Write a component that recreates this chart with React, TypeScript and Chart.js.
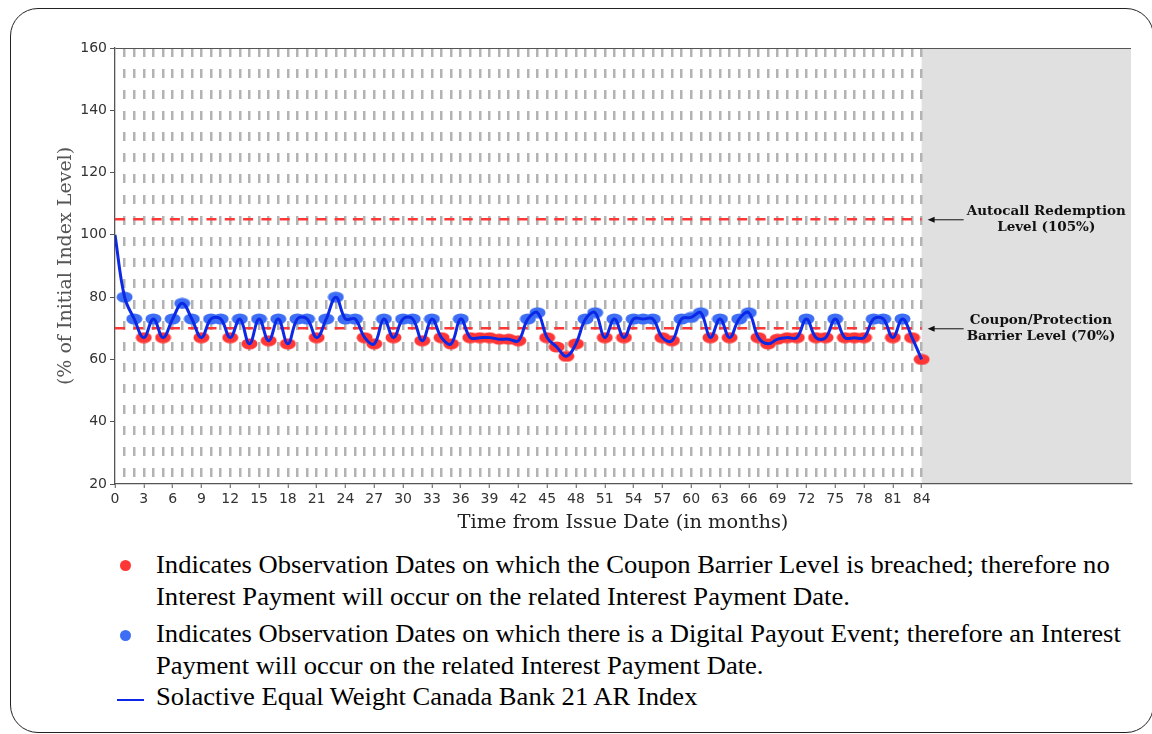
import React, { useEffect, useRef } from "react";
import { Chart, registerables } from "chart.js";

Chart.register(...registerables);

// ---- data ----
const indexValues = [
  100, 80, 73, 67, 73, 67, 73, 78, 73, 67, 73, 73, 67, 73, 65, 73, 66, 73, 65, 73,
  73, 67, 73, 80, 73, 73, 67, 65, 73, 67, 73, 73, 66, 73, 67, 65, 73, 67, 67, 67,
  66.5, 66.5, 66, 73, 75, 67, 64, 61, 65, 73, 75, 67, 73, 67, 73, 73, 73, 67, 66, 73,
  73.5, 75, 67, 73, 67, 73, 75, 67, 65, 66.5, 67, 67, 73, 67, 67, 73, 67, 67, 67, 73,
  73, 67, 73, 67, 60,
];
const months = indexValues.map((_, i) => i);
const autocallLevel = 105;
const couponLevel = 70;
const lastObservation = 84;
const xAxisMax = 105.8;
const xTickStep = 3;
const yTicks = [20, 40, 60, 80, 100, 120, 140, 160];
const xTitle = "Time from Issue Date (in months)";
const yTitle = "(% of Initial Index Level)";
const autocallNote = ["Autocall Redemption", "Level (105%)"];
const couponNote = ["Coupon/Protection", "Barrier Level (70%)"];
const legendRed = [
  "Indicates Observation Dates on which the Coupon Barrier Level is breached; therefore no",
  "Interest Payment will occur on the related Interest Payment Date.",
];
const legendBlue = [
  "Indicates Observation Dates on which there is a Digital Payout Event; therefore an Interest",
  "Payment will occur on the related Interest Payment Date.",
];
const legendLine = "Solactive Equal Weight Canada Bank 21 AR Index";

// ---- styles ----
const RED = "#ff3636";
const BLUE = "#3d6ef4";
const LINE = "#0a28e6";
const GRID = "#b3b3b3";
const AXIS = "#555555";

function makeEllipse(color: string) {
  const c = document.createElement("canvas");
  c.width = 17;
  c.height = 12;
  const g = c.getContext("2d")!;
  g.fillStyle = color;
  g.beginPath();
  g.ellipse(8.5, 6, 8, 5.5, 0, 0, Math.PI * 2);
  g.fill();
  return c;
}

export default function App() {
  const ref = useRef<HTMLCanvasElement>(null);

  useEffect(() => {
    const canvas = ref.current!;
    const redMark = makeEllipse(RED);
    const blueMark = makeEllipse(BLUE);
    const pts = months.map((m, i) => ({ x: m, y: indexValues[i] }));

    const shade = {
      id: "shade",
      beforeDraw(chart: any) {
        const { ctx, chartArea: a, scales } = chart;
        const x0 = scales.x.getPixelForValue(lastObservation);
        ctx.save();
        ctx.fillStyle = "#e0e0e0";
        ctx.fillRect(x0, a.top, a.right - x0, a.bottom - a.top);
        ctx.restore();
      },
    };

    const notes = {
      id: "notes",
      afterDraw(chart: any) {
        const { ctx, scales } = chart;
        const tip = scales.x.getPixelForValue(lastObservation) + 6;
        const tail = tip + 36;
        const textLeft = tip + 39;
        const draw = (level: number, lines: string[]) => {
          const y = scales.y.getPixelForValue(level);
          ctx.save();
          ctx.strokeStyle = "#111";
          ctx.fillStyle = "#111";
          ctx.lineWidth = 1;
          ctx.beginPath();
          ctx.moveTo(tip + 5, y + 0.5);
          ctx.lineTo(tail, y + 0.5);
          ctx.stroke();
          ctx.beginPath();
          ctx.moveTo(tip, y + 0.5);
          ctx.lineTo(tip + 7, y - 2.5);
          ctx.lineTo(tip + 7, y + 3.5);
          ctx.closePath();
          ctx.fill();
          ctx.font = 'bold 13.5px "DejaVu Serif"';
          ctx.textAlign = "center";
          ctx.textBaseline = "middle";
          const w = Math.max(...lines.map((l) => ctx.measureText(l).width));
          const cx = textLeft + w / 2;
          ctx.fillText(lines[0], cx, y - 8);
          ctx.fillText(lines[1], cx, y + 8.5);
          ctx.restore();
        };
        draw(autocallLevel, autocallNote);
        draw(couponLevel, couponNote);
      },
    };

    const isLabeled = (v: number) => v % xTickStep === 0 && v <= lastObservation;

    const chart = new Chart(canvas, {
      type: "line",
      data: {
        datasets: [
          {
            label: "index",
            data: pts,
            borderColor: LINE,
            borderWidth: 3,
            tension: 0.4,
            pointRadius: 0,
            order: 0,
          },
          {
            label: "obs",
            data: pts,
            showLine: false,
            pointStyle: (c: any) =>
              c.dataIndex === undefined
                ? "circle"
                : indexValues[c.dataIndex] >= couponLevel
                ? blueMark
                : redMark,
            pointRadius: (c: any) => (c.dataIndex === 0 ? 0 : 6),
            order: 1,
          },
          {
            label: "autocall",
            data: [
              { x: 0, y: autocallLevel },
              { x: lastObservation, y: autocallLevel },
            ],
            borderColor: RED,
            borderWidth: 2.5,
            borderDash: [10, 8.3],
            pointRadius: 0,
            order: 2,
          },
          {
            label: "coupon",
            data: [
              { x: 0, y: couponLevel },
              { x: lastObservation, y: couponLevel },
            ],
            borderColor: RED,
            borderWidth: 2.5,
            borderDash: [10, 8.3],
            pointRadius: 0,
            order: 2,
          },
        ],
      } as any,
      options: {
        responsive: false,
        animation: false,
        devicePixelRatio: 1,
        layout: { padding: { left: 0, top: 48, right: 21, bottom: 0 } },
        plugins: { legend: { display: false }, tooltip: { enabled: false } },
        scales: {
          x: {
            type: "linear",
            min: 0,
            max: xAxisMax,
            afterFit: (s: any) => {
              s.height = 61;
            },
            ticks: {
              stepSize: 1,
              autoSkip: false,
              maxRotation: 0,
              minRotation: 0,
              includeBounds: false,
              color: "#333",
              font: { family: "DejaVu Sans", size: 14 },
              padding: 3,
              callback: (v: any) => (isLabeled(Number(v)) ? String(v) : ""),
            },
            grid: {
              color: (c: any) =>
                c.tick && c.tick.value >= 1 && c.tick.value <= lastObservation ? GRID : "transparent",
              lineWidth: 2.5,
              drawTicks: true,
              tickLength: 4,
              tickWidth: 1,
              tickBorderDash: [],
              tickColor: (c: any) => (c.tick && isLabeled(c.tick.value) ? AXIS : "transparent"),
            },
            border: { display: true, color: AXIS, width: 1.3, dash: [9, 12] },
            title: {
              display: true,
              text: xTitle,
              color: "#222",
              font: { family: "DejaVu Serif", size: 19.4, lineHeight: 1.2 },
              padding: { top: 0, bottom: 10.4 },
            },
          },
          y: {
            type: "linear",
            min: yTicks[0],
            max: yTicks[yTicks.length - 1],
            afterFit: (s: any) => {
              s.width = 115;
            },
            ticks: {
              stepSize: 20,
              color: "#333",
              font: { family: "DejaVu Sans", size: 14 },
              padding: 3,
            },
            grid: {
              color: (c: any) => (c.tick && c.tick.value === yTicks[yTicks.length - 1] ? AXIS : "transparent"),
              lineWidth: 1,
              drawTicks: true,
              tickLength: 5,
              tickWidth: 1,
              tickColor: AXIS,
            },
            border: { display: true, color: AXIS, width: 1.3 },
            title: {
              display: true,
              text: yTitle,
              color: "#555",
              font: { family: "DejaVu Serif", size: 19, lineHeight: 1.2 },
              padding: { top: 54.6, bottom: 0 },
            },
          },
        },
      } as any,
      plugins: [shade, notes],
    });
    return () => chart.destroy();
  }, []);

  const textStyle: React.CSSProperties = {
    position: "absolute",
    left: 156,
    fontFamily: '"Liberation Serif", "Times New Roman", serif',
    fontSize: 24.5,
    lineHeight: "32px",
    color: "#000",
    whiteSpace: "nowrap",
    transform: "scaleX(1.085)",
    transformOrigin: "0 0",
  };
  const dot = (top: number, color: string): React.CSSProperties => ({
    position: "absolute",
    left: 119.5,
    top: top - 5.5,
    width: 11,
    height: 11,
    borderRadius: "50%",
    background: color,
  });

  return (
    <div
      style={{
        position: "fixed",
        left: 0,
        top: 0,
        width: 1152,
        height: 734,
        overflow: "hidden",
        background: "#fff",
      }}
    >
      <div
        style={{
          position: "absolute",
          left: 10,
          top: 8,
          width: 1144,
          height: 725,
          border: "1.4px solid #222",
          borderRadius: 28,
          boxSizing: "border-box",
        }}
      />
      <canvas
        ref={ref}
        width={1152}
        height={545}
        style={{ position: "absolute", left: 0, top: 0, width: 1152, height: 545 }}
      />
      <div style={dot(565, RED)} />
      <div style={{ ...textStyle, top: 548.8 }}>
        {legendRed[0]}
        <br />
        {legendRed[1]}
      </div>
      <div style={dot(635, BLUE)} />
      <div style={{ ...textStyle, top: 617.8 }}>
        {legendBlue[0]}
        <br />
        {legendBlue[1]}
      </div>
      <div
        style={{
          position: "absolute",
          left: 117,
          top: 698.5,
          width: 27,
          height: 2,
          background: LINE,
        }}
      />
      <div style={{ ...textStyle, top: 681.2 }}>{legendLine}</div>
    </div>
  );
}
